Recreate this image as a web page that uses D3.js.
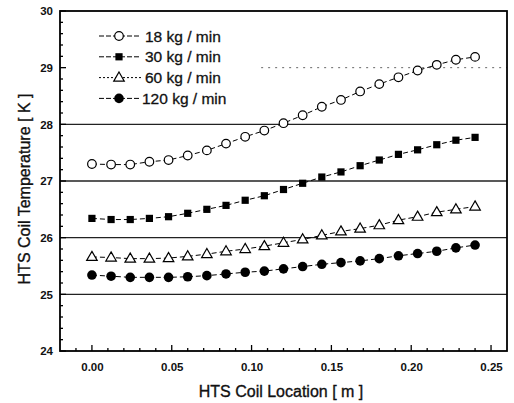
<!DOCTYPE html>
<html><head><meta charset="utf-8">
<script src="https://cdn.jsdelivr.net/npm/d3@7/dist/d3.min.js"></script>
<style>body{margin:0;background:#fff}svg{display:block}</style>
</head><body><div id="chart"></div>
<script>
const locations = [0.000,0.012,0.024,0.036,0.048,0.060,0.072,0.084,0.096,0.108,0.120,0.132,0.144,0.156,0.168,0.180,0.192,0.204,0.216,0.228,0.240];
const t18 = [27.30,27.29,27.29,27.34,27.37,27.45,27.54,27.66,27.78,27.89,28.02,28.16,28.31,28.43,28.58,28.71,28.83,28.95,29.05,29.14,29.19];
const t30 = [26.34,26.32,26.32,26.34,26.37,26.43,26.50,26.57,26.66,26.74,26.85,26.96,27.07,27.16,27.27,27.37,27.47,27.55,27.64,27.72,27.77];
const t60 = [25.66,25.65,25.63,25.63,25.64,25.67,25.71,25.76,25.80,25.85,25.91,25.97,26.04,26.11,26.16,26.22,26.31,26.37,26.45,26.50,26.55];
const t120 = [25.34,25.32,25.30,25.30,25.30,25.31,25.33,25.36,25.39,25.41,25.45,25.49,25.53,25.56,25.59,25.63,25.68,25.72,25.76,25.82,25.87];
const seriesNames = ["18 kg / min","30 kg / min","60 kg / min","120 kg / min"];
const seriesMarkers = ["openCircle","square","openTriangle","filledCircle"];
const xTicks = [0.00,0.05,0.10,0.15,0.20,0.25];
const yTicks = [24,25,26,27,28,29,30];
const gridValues = [25,26,27,28,29];
const xTitle = "HTS Coil Location [ m ]";
const yTitle = "HTS Coil Temperature [ K ]";

const W=514,H=403;
const m={l:60,t:11,r:507,b:351};
const svg=d3.select("#chart").append("svg").attr("width",W).attr("height",H);
const x=d3.scaleLinear().domain([-0.02,0.26]).range([m.l,m.r]);
const y=d3.scaleLinear().domain([24,30]).range([m.b,m.t]);
const font="Liberation Sans, Arial, sans-serif";

// gridlines
svg.append("g").selectAll("line").data(gridValues).join("line")
  .attr("x1",d=>d===29?x(0.106):m.l).attr("x2",m.r)
  .attr("y1",d=>y(d)).attr("y2",d=>y(d))
  .attr("stroke",d=>d===29?"#666":"#222")
  .attr("stroke-width",d=>d===29?1:1.3)
  .attr("stroke-dasharray",d=>d===29?"2,5":null);

// axes (ticks inward)
const gx=svg.append("g").attr("transform",`translate(0,${m.b})`);
gx.selectAll("line.tk").data(d3.range(-1,26)).join("line").attr("class","tk")
  .attr("x1",i=>x(i/100)).attr("x2",i=>x(i/100))
  .attr("y1",0).attr("y2",i=>i%5===0?-6:-3).attr("stroke","#000").attr("stroke-width",1.3);
const xa=d3.axisBottom(x).tickValues(xTicks).tickSize(0).tickPadding(12).tickFormat(d3.format(".2f"));
const gxa=svg.append("g").attr("transform",`translate(0,${m.b})`).call(xa);
gxa.select(".domain").remove();
gxa.selectAll("text").attr("font-family",font).attr("font-size",11.5).attr("font-weight","bold").attr("fill","#111");

const gy=svg.append("g").attr("transform",`translate(${m.l},0)`);
gy.selectAll("line.tk").data(d3.range(24,30.001,0.2)).join("line").attr("class","tk")
  .attr("x1",0).attr("x2",d=>Math.abs(d-Math.round(d))<0.01?6:3)
  .attr("y1",d=>y(d)).attr("y2",d=>y(d)).attr("stroke","#000").attr("stroke-width",1.3);
const ya=d3.axisLeft(y).tickValues(yTicks).tickSize(0).tickPadding(7).tickFormat(d3.format("d"));
const gya=svg.append("g").attr("transform",`translate(${m.l},0)`).call(ya);
gya.select(".domain").remove();
gya.selectAll("text").attr("font-family",font).attr("font-size",11.5).attr("font-weight","bold").attr("fill","#111");

// frame
svg.append("rect").attr("x",m.l).attr("y",m.t).attr("width",m.r-m.l).attr("height",m.b-m.t)
  .attr("fill","none").attr("stroke","#000").attr("stroke-width",1.8);

// titles
svg.append("text").attr("x",281).attr("y",397).attr("text-anchor","middle")
  .attr("font-family",font).attr("font-size",16).attr("fill","#111").attr("stroke","#111").attr("stroke-width",0.35).text(xTitle);
svg.append("text").attr("transform","translate(30,189) rotate(-90)").attr("text-anchor","middle")
  .attr("font-family",font).attr("font-size",16).attr("fill","#111").attr("stroke","#111").attr("stroke-width",0.35).text(yTitle);

// markers
function drawMarker(g,type,cx,cy){
  if(type==="openCircle") g.append("circle").attr("cx",cx).attr("cy",cy).attr("r",4.3).attr("fill","#fff").attr("stroke","#000").attr("stroke-width",1.2);
  else if(type==="filledCircle") g.append("circle").attr("cx",cx).attr("cy",cy).attr("r",4.8).attr("fill","#000");
  else if(type==="square") g.append("rect").attr("x",cx-3.6).attr("y",cy-3.6).attr("width",7.2).attr("height",7.2).attr("fill","#000");
  else if(type==="openTriangle") g.append("path").attr("d",d3.symbol(d3.symbolTriangle,48)()).attr("transform",`translate(${cx},${cy+0.5})`).attr("fill","#fff").attr("stroke","#000").attr("stroke-width",1.2);
}
const allSeries=[t18,t30,t60,t120];
const line=d3.line().x((d,i)=>x(locations[i])).y(d=>y(d));
allSeries.forEach((vals,k)=>{
  const g=svg.append("g");
  g.append("path").datum(vals).attr("d",line).attr("fill","none").attr("stroke","#000").attr("stroke-width",1).attr("stroke-dasharray","5,3");
  vals.forEach((v,i)=>drawMarker(g,seriesMarkers[k],x(locations[i]),y(v)));
});

// legend
const lg=svg.append("g");
seriesNames.forEach((name,k)=>{
  const ly=36+k*20.8;
  lg.append("line").attr("x1",99).attr("x2",141).attr("y1",ly).attr("y2",ly).attr("stroke","#000").attr("stroke-width",1).attr("stroke-dasharray",k===2?"2,2":"5,2");
  drawMarker(lg,seriesMarkers[k],119,ly);
  lg.append("text").attr("x",k===3?142:145).attr("y",ly+5.5).attr("font-family",font).attr("font-size",15.5).attr("fill","#111").attr("stroke","#111").attr("stroke-width",0.3).text(name);
});
</script></body></html>
